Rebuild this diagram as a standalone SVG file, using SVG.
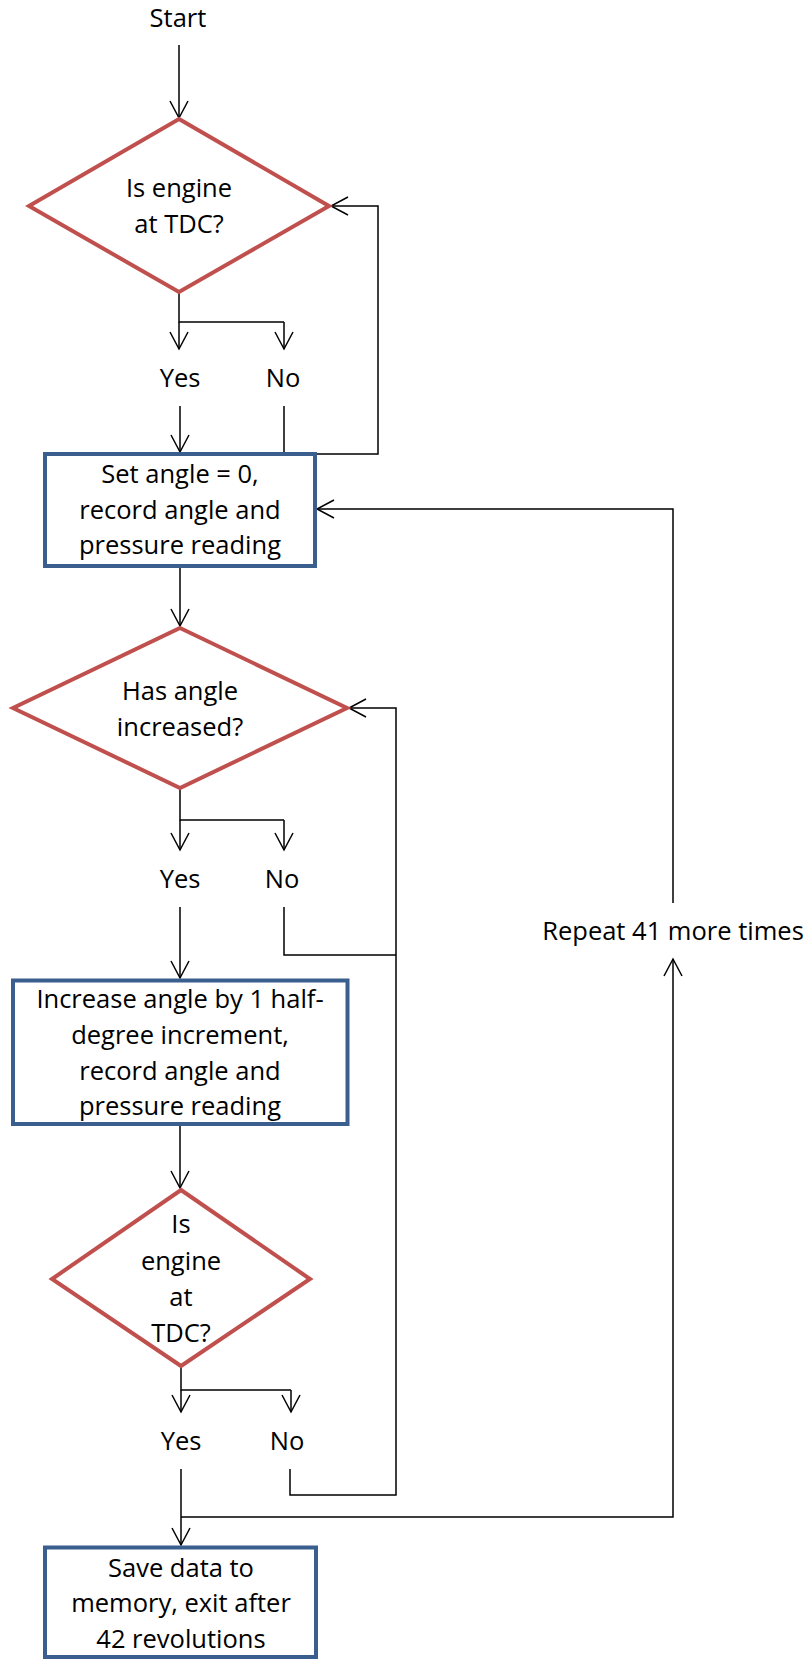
<svg xmlns="http://www.w3.org/2000/svg" width="811" height="1659" viewBox="0 0 811 1659">
  <style>
    text { font-family: "Open Sans", "Noto Sans", "Liberation Sans", sans-serif; font-size: 25.5px; fill: #000; text-anchor: middle; }
    .decision { fill: #fff; stroke: #C0504D; stroke-width: 4; stroke-linejoin: miter; }
    .process { fill: #fff; stroke: #3A5F8E; stroke-width: 4; }
    .link { fill: none; stroke: #000; stroke-width: 1.5; }
    .arrow { marker-end: url(#head); }
  </style>
  <defs>
    <marker id="head" markerUnits="userSpaceOnUse" viewBox="-19 -10 20 20" refX="0" refY="0" markerWidth="20" markerHeight="20" orient="auto" overflow="visible">
      <path d="M-17,-9 L0,0 L-17,9" fill="none" stroke="#000" stroke-width="1.5"/>
    </marker>
  </defs>

  <!-- connectors -->
  <g id="connectors">
    <path class="link arrow" d="M179,45 V118"/>
    <!-- first decision: branches -->
    <path class="link" d="M179,292 V322 H284"/>
    <path class="link arrow" d="M179,322 V349"/>
    <path class="link arrow" d="M284,322 V349"/>
    <path class="link arrow" d="M180,406 V452"/>
    <path class="link arrow" d="M284,406 V454 H378 V206 H331"/>
    <!-- set angle to second decision -->
    <path class="link arrow" d="M180,566 V626"/>
    <path class="link" d="M180,788 V820 H284"/>
    <path class="link arrow" d="M180,820 V850"/>
    <path class="link arrow" d="M284,820 V850"/>
    <path class="link arrow" d="M180,907 V978"/>
    <path class="link" d="M284,907 V955 H396"/>
    <!-- increase angle to third decision -->
    <path class="link arrow" d="M180,1124 V1188"/>
    <path class="link" d="M181,1366 V1390 H291"/>
    <path class="link arrow" d="M181,1390 V1412"/>
    <path class="link arrow" d="M291,1390 V1412"/>
    <path class="link arrow" d="M290,1469 V1495 H396 V708 H349"/>
    <path class="link arrow" d="M181,1469 V1545"/>
    <!-- repeat loop -->
    <path class="link arrow" d="M181,1517 H673 V959"/>
    <path class="link arrow" d="M673,903 V509 H317"/>
  </g>

  <g id="start">
    <text x="178" y="27">Start</text>
  </g>

  <g id="tdc-check-1">
    <polygon class="decision" points="179,119 329,206 179,292 29,206"/>
    <text x="179" y="197">Is engine</text>
    <text x="179" y="233">at TDC?</text>
  </g>

  <g id="labels-1">
    <text x="180" y="387">Yes</text>
    <text x="283" y="387">No</text>
  </g>

  <g id="set-angle">
    <rect class="process" x="45" y="454" width="270" height="112"/>
    <text x="180" y="483">Set angle = 0,</text>
    <text x="180" y="519">record angle and</text>
    <text x="180" y="554">pressure reading</text>
  </g>

  <g id="angle-check">
    <polygon class="decision" points="180,628 347,708 180,788 13,708"/>
    <text x="180" y="700">Has angle</text>
    <text x="180" y="736">increased?</text>
  </g>

  <g id="labels-2">
    <text x="180" y="888">Yes</text>
    <text x="282" y="888">No</text>
  </g>

  <g id="increase-angle">
    <rect class="process" x="13" y="980.5" width="334.5" height="143.5"/>
    <text x="180" y="1008">Increase angle by 1 half-</text>
    <text x="180" y="1044">degree increment,</text>
    <text x="180" y="1080">record angle and</text>
    <text x="180" y="1115">pressure reading</text>
  </g>

  <g id="tdc-check-2">
    <polygon class="decision" points="181,1190 310,1279 181,1366 52,1279"/>
    <text x="181" y="1233">Is</text>
    <text x="181" y="1270">engine</text>
    <text x="181" y="1306">at</text>
    <text x="181" y="1342">TDC?</text>
  </g>

  <g id="labels-3">
    <text x="181" y="1450">Yes</text>
    <text x="287" y="1450">No</text>
  </g>

  <g id="repeat">
    <text x="673" y="940">Repeat 41 more times</text>
  </g>

  <g id="save-data">
    <rect class="process" x="45" y="1547.5" width="271" height="109.5"/>
    <text x="181" y="1577">Save data to</text>
    <text x="181" y="1612">memory, exit after</text>
    <text x="181" y="1648">42 revolutions</text>
  </g>
</svg>
